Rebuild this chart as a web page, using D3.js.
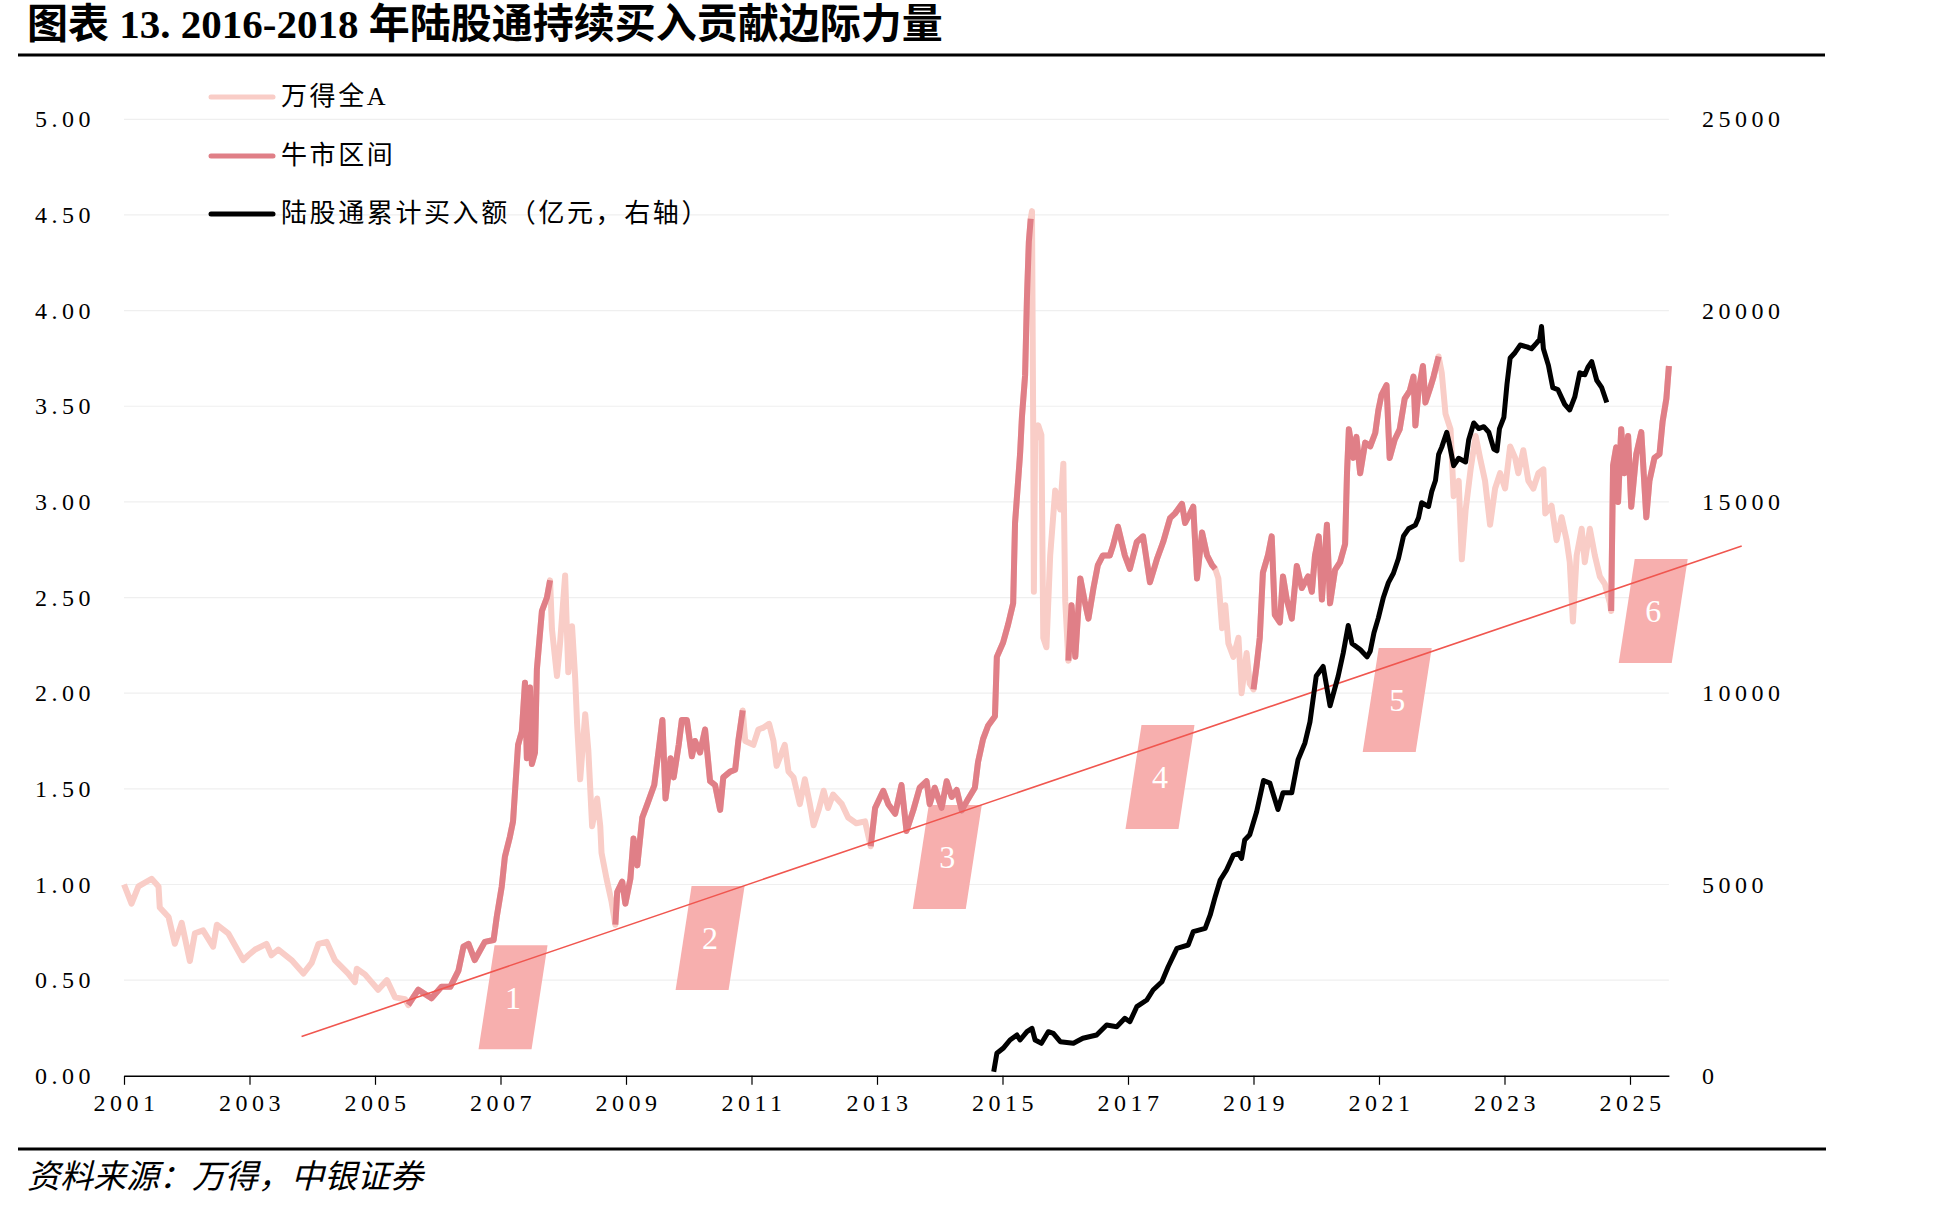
<!DOCTYPE html>
<html>
<head>
<meta charset="utf-8">
<script src="https://cdn.jsdelivr.net/npm/d3@7"></script>
<style>
body { margin: 0; background: #fff; }
svg { display: block; }
</style>
</head>
<body>
<svg id="chart"></svg>
<script>
// 万得全A (2001 = 1)
var yearsA = [2001.00,2001.12,2001.23,2001.44,2001.55,2001.57,2001.71,2001.81,2001.92,2002.05,2002.13,2002.26,2002.42,2002.48,2002.66,2002.90,2002.98,2003.09,2003.27,2003.35,2003.46,2003.67,2003.86,2003.99,2004.10,2004.23,2004.36,2004.57,2004.68,2004.71,2004.84,2005.05,2005.19,2005.32,2005.48,2005.53,2005.69,2005.90,2006.06,2006.20,2006.33,2006.41,2006.49,2006.59,2006.75,2006.89,2006.94,2007.02,2007.07,2007.15,2007.20,2007.28,2007.34,2007.39,2007.42,2007.47,2007.50,2007.55,2007.58,2007.66,2007.74,2007.79,2007.82,2007.90,2007.95,2008.03,2008.08,2008.14,2008.19,2008.22,2008.27,2008.35,2008.40,2008.46,2008.54,2008.59,2008.61,2008.69,2008.77,2008.83,2008.86,2008.94,2008.99,2009.07,2009.12,2009.18,2009.26,2009.34,2009.45,2009.52,2009.58,2009.63,2009.71,2009.76,2009.84,2009.89,2009.97,2010.05,2010.10,2010.18,2010.26,2010.34,2010.42,2010.50,2010.55,2010.66,2010.74,2010.79,2010.86,2010.90,2011.03,2011.11,2011.19,2011.28,2011.35,2011.40,2011.53,2011.59,2011.67,2011.77,2011.85,2011.93,2011.99,2012.07,2012.15,2012.22,2012.30,2012.44,2012.54,2012.67,2012.81,2012.90,2012.97,2013.10,2013.18,2013.29,2013.39,2013.47,2013.58,2013.68,2013.79,2013.84,2013.92,2014.03,2014.11,2014.19,2014.27,2014.35,2014.45,2014.56,2014.61,2014.69,2014.77,2014.88,2014.91,2015.01,2015.09,2015.17,2015.20,2015.28,2015.31,2015.36,2015.39,2015.42,2015.45,2015.47,2015.49,2015.50,2015.52,2015.57,2015.62,2015.65,2015.70,2015.76,2015.84,2015.92,2015.97,2016.00,2016.05,2016.10,2016.16,2016.24,2016.31,2016.37,2016.45,2016.52,2016.60,2016.71,2016.76,2016.84,2016.95,2017.03,2017.14,2017.24,2017.35,2017.46,2017.56,2017.67,2017.75,2017.86,2017.91,2017.99,2018.04,2018.10,2018.18,2018.26,2018.34,2018.39,2018.44,2018.50,2018.55,2018.60,2018.68,2018.76,2018.81,2018.89,2018.94,2019.00,2019.05,2019.10,2019.15,2019.23,2019.29,2019.34,2019.42,2019.47,2019.53,2019.61,2019.69,2019.77,2019.87,2019.93,2019.98,2020.04,2020.09,2020.17,2020.22,2020.30,2020.38,2020.46,2020.49,2020.52,2020.59,2020.64,2020.70,2020.78,2020.86,2020.94,2020.99,2021.04,2021.12,2021.17,2021.25,2021.33,2021.41,2021.49,2021.55,2021.58,2021.63,2021.70,2021.74,2021.82,2021.87,2021.95,2022.00,2022.06,2022.14,2022.19,2022.27,2022.32,2022.38,2022.46,2022.54,2022.61,2022.69,2022.77,2022.85,2022.93,2023.01,2023.09,2023.17,2023.22,2023.30,2023.38,2023.46,2023.54,2023.62,2023.65,2023.75,2023.83,2023.91,2023.99,2024.04,2024.09,2024.15,2024.23,2024.28,2024.36,2024.44,2024.52,2024.60,2024.68,2024.70,2024.73,2024.78,2024.81,2024.86,2024.91,2024.97,2025.02,2025.10,2025.18,2025.26,2025.31,2025.39,2025.47,2025.52,2025.58,2025.62];
var allA = [1.00,0.90,0.99,1.03,0.99,0.88,0.83,0.69,0.80,0.60,0.745,0.76,0.675,0.79,0.745,0.605,0.63,0.66,0.69,0.63,0.66,0.605,0.535,0.59,0.69,0.70,0.605,0.535,0.49,0.56,0.53,0.45,0.50,0.41,0.40,0.37,0.45,0.405,0.465,0.465,0.55,0.675,0.69,0.605,0.70,0.71,0.83,0.99,1.145,1.25,1.33,1.73,1.80,2.055,1.66,2.03,1.63,1.69,2.125,2.43,2.50,2.59,2.335,2.09,2.265,2.615,2.11,2.35,2.08,1.845,1.55,1.89,1.70,1.305,1.45,1.305,1.165,1.03,0.91,0.79,0.96,1.015,0.90,1.03,1.24,1.10,1.35,1.42,1.52,1.70,1.86,1.45,1.66,1.56,1.73,1.86,1.86,1.67,1.75,1.69,1.81,1.54,1.52,1.39,1.56,1.59,1.60,1.75,1.91,1.75,1.73,1.81,1.82,1.84,1.75,1.62,1.73,1.59,1.56,1.42,1.55,1.42,1.31,1.39,1.49,1.40,1.47,1.42,1.35,1.32,1.33,1.20,1.40,1.49,1.42,1.37,1.52,1.28,1.39,1.506,1.54,1.42,1.506,1.40,1.54,1.458,1.494,1.386,1.446,1.506,1.64,1.76,1.83,1.88,2.19,2.265,2.36,2.47,2.89,3.25,3.445,3.66,4.07,4.36,4.48,4.52,3.35,2.53,3.32,3.40,3.35,2.29,2.24,2.72,3.06,2.96,3.20,2.48,2.17,2.46,2.19,2.60,2.48,2.39,2.55,2.67,2.72,2.72,2.77,2.87,2.72,2.65,2.79,2.82,2.58,2.70,2.79,2.915,2.94,2.99,2.89,2.94,2.975,2.60,2.84,2.72,2.67,2.65,2.60,2.34,2.46,2.26,2.19,2.29,2.00,2.21,2.05,2.02,2.145,2.29,2.63,2.72,2.82,2.41,2.37,2.61,2.49,2.39,2.665,2.55,2.61,2.53,2.72,2.82,2.49,2.88,2.47,2.645,2.685,2.78,3.15,3.38,3.23,3.34,3.15,3.31,3.29,3.36,3.48,3.56,3.61,3.23,3.325,3.38,3.54,3.58,3.655,3.40,3.58,3.71,3.52,3.60,3.655,3.76,3.675,3.46,3.38,3.03,3.11,2.70,2.955,3.17,3.345,3.23,3.11,2.88,3.07,3.15,3.07,3.29,3.23,3.15,3.27,3.11,3.07,3.15,3.17,2.94,2.98,2.80,2.92,2.80,2.685,2.375,2.72,2.86,2.685,2.86,2.72,2.61,2.57,2.47,2.43,3.19,3.285,3.00,3.38,3.15,3.345,2.975,3.25,3.365,2.92,3.11,3.23,3.25,3.42,3.54,3.71];

// 牛市区间
var bullStart = [2005.53, 2008.83, 2012.90, 2016.05, 2019.00, 2024.70];
var bullEnd = [2007.79, 2010.86, 2015.45, 2018.39, 2021.95, 2025.62];

// 陆股通累计买入额（亿元，右轴）
var yearsB = [2014.86,2014.91,2015.01,2015.12,2015.23,2015.28,2015.39,2015.47,2015.52,2015.62,2015.73,2015.81,2015.92,2016.13,2016.28,2016.50,2016.66,2016.82,2016.95,2017.03,2017.14,2017.30,2017.40,2017.54,2017.64,2017.78,2017.96,2018.04,2018.23,2018.31,2018.39,2018.47,2018.57,2018.68,2018.76,2018.81,2018.86,2018.94,2019.05,2019.16,2019.26,2019.39,2019.47,2019.61,2019.71,2019.82,2019.90,2020.00,2020.11,2020.22,2020.35,2020.43,2020.51,2020.57,2020.70,2020.81,2020.86,2020.92,2020.99,2021.07,2021.15,2021.23,2021.31,2021.39,2021.47,2021.58,2021.63,2021.68,2021.79,2021.84,2021.90,2021.95,2022.00,2022.08,2022.12,2022.19,2022.27,2022.38,2022.43,2022.51,2022.59,2022.67,2022.75,2022.83,2022.88,2022.92,2022.99,2023.04,2023.09,2023.17,2023.25,2023.36,2023.43,2023.51,2023.56,2023.59,2023.62,2023.70,2023.77,2023.85,2023.96,2024.04,2024.12,2024.20,2024.28,2024.33,2024.39,2024.47,2024.55,2024.63];
var northbound = [107,588,719,936,1066,936,1153,1240,936,849,1153,1110,892,849,980,1066,1327,1283,1503,1414,1806,1981,2242,2459,2851,3332,3419,3767,3855,4203,4681,5117,5379,5771,5815,5684,6163,6300,6900,7720,7650,6960,7400,7400,8260,8700,9250,10450,10700,9670,10450,11050,11770,11300,11143,10949,11095,11580,11969,12503,12891,13134,13522,14104,14297,14394,14588,14977,14880,15268,15559,16238,16432,16820,16529,15947,16141,16044,16626,17063,16917,16966,16820,16383,16335,16917,17209,18082,18761,18906,19100,19052,19003,19149,19247,19587,19003,18568,17985,17937,17549,17403,17743,18374,18325,18519,18665,18180,17985,17597];

// 趋势线与编号
var trendYears = [2003.83, 2026.78];
var trendValues = [0.205, 2.77];
var boxLabels = ['1', '2', '3', '4', '5', '6'];
var boxYears = [2007.20, 2010.34, 2014.12, 2017.51, 2021.29, 2025.37];
var boxValues = [0.41, 0.72, 1.144, 1.562, 1.964, 2.43];

var xTicks = [2001,2003,2005,2007,2009,2011,2013,2015,2017,2019,2021,2023,2025];
var leftTicks = [0,0.5,1,1.5,2,2.5,3,3.5,4,4.5,5];
var rightTicks = [0,5000,10000,15000,20000,25000];

var legendLabels = ['万得全A', '牛市区间', '陆股通累计买入额（亿元，右轴）'];

var width = 1948, height = 1208;
var plot = {left: 124, right: 1668.9, top: 119.3, bottom: 1075.8};
var colLight = '#f9cdc7', colBull = '#e07f87', colBox = '#f7afae', colTrend = '#f0564f';
var numFont = "'Liberation Serif', serif";
var cjkFont = "'Liberation Serif', 'Noto Sans CJK SC', sans-serif";

var x = d3.scaleLinear().domain([2001, 2025.62]).range([plot.left, plot.right]);
var y = d3.scaleLinear().domain([0, 5]).range([plot.bottom, plot.top]);
var y2 = d3.scaleLinear().domain([0, 25000]).range([plot.bottom, plot.top]);

var svg = d3.select('#chart')
    .attr('width', width)
    .attr('height', height);

svg.append('rect').attr('width', width).attr('height', height).attr('fill', '#fff');

// title
svg.append('text')
    .attr('x', 27).attr('y', 38)
    .attr('font-family', cjkFont)
    .attr('font-size', 41)
    .attr('font-weight', 'bold')
    .attr('fill', '#000')
    .text('图表 13. 2016-2018 年陆股通持续买入贡献边际力量');

svg.append('line')
    .attr('x1', 18).attr('x2', 1825)
    .attr('y1', 55).attr('y2', 55)
    .attr('stroke', '#000').attr('stroke-width', 3);

// grid
svg.append('g')
    .selectAll('line')
    .data(leftTicks.filter(d => d > 0))
    .join('line')
    .attr('x1', plot.left).attr('x2', plot.right)
    .attr('y1', d => y(d)).attr('y2', d => y(d))
    .attr('stroke', '#efefef').attr('stroke-width', 1.2);

// numbered boxes
var boxes = svg.append('g');
boxes.selectAll('path')
    .data(boxLabels)
    .join('path')
    .attr('fill', colBox)
    .attr('d', (d, i) => {
        var cx = x(boxYears[i]), cy = y(boxValues[i]);
        return 'M' + (cx - 18.5) + ',' + (cy - 52) +
            'L' + (cx + 34.5) + ',' + (cy - 52) +
            'L' + (cx + 18.5) + ',' + (cy + 52) +
            'L' + (cx - 34.5) + ',' + (cy + 52) + 'Z';
    });

// index lines
var line = d3.line().x(d => x(d[0])).y(d => y(d[1]));
var seriesA = d3.zip(yearsA, allA);

svg.append('path')
    .datum(seriesA)
    .attr('d', line)
    .attr('fill', 'none')
    .attr('stroke', colLight)
    .attr('stroke-width', 6)
    .attr('stroke-linejoin', 'round');

svg.append('g')
    .selectAll('path')
    .data(bullStart.map((s, i) => seriesA.filter(p => p[0] >= s - 1e-6 && p[0] <= bullEnd[i] + 1e-6)))
    .join('path')
    .attr('d', line)
    .attr('fill', 'none')
    .attr('stroke', colBull)
    .attr('stroke-width', 6)
    .attr('stroke-linejoin', 'round');

// trend line
svg.append('path')
    .datum(d3.zip(trendYears, trendValues))
    .attr('d', line)
    .attr('fill', 'none')
    .attr('stroke', colTrend)
    .attr('stroke-width', 1.6);

// northbound cumulative
var line2 = d3.line().x(d => x(d[0])).y(d => y2(d[1]));
svg.append('path')
    .datum(d3.zip(yearsB, northbound))
    .attr('d', line2)
    .attr('fill', 'none')
    .attr('stroke', '#000')
    .attr('stroke-width', 5)
    .attr('stroke-linejoin', 'round');

boxes.selectAll('text')
    .data(boxLabels)
    .join('text')
    .attr('x', (d, i) => x(boxYears[i]))
    .attr('y', (d, i) => y(boxValues[i]))
    .attr('dy', '0.35em')
    .attr('text-anchor', 'middle')
    .attr('font-family', numFont)
    .attr('font-size', 32)
    .attr('fill', '#fff')
    .text(d => d);

// axes
var xAxis = d3.axisBottom(x).tickValues(xTicks).tickFormat(d3.format('d'))
    .tickSize(9).tickSizeOuter(0).tickPadding(9);
var gx = svg.append('g')
    .attr('transform', `translate(0,${plot.bottom})`)
    .call(xAxis);
gx.select('.domain').attr('stroke', '#000').attr('stroke-width', 1.6);
gx.selectAll('.tick line').attr('stroke', '#000').attr('stroke-width', 1.2);
gx.selectAll('text')
    .attr('font-family', numFont).attr('font-size', 24)
    .attr('dx', 2)
    .style('letter-spacing', '4.5px').attr('fill', '#000');

var yAxis = d3.axisLeft(y).tickValues(leftTicks).tickFormat(d3.format('.2f'))
    .tickSize(0).tickPadding(29);
var gy = svg.append('g')
    .attr('transform', `translate(${plot.left},0)`)
    .call(yAxis);
gy.select('.domain').remove();
gy.selectAll('text')
    .attr('font-family', numFont).attr('font-size', 24)
    .style('letter-spacing', '4.5px').attr('fill', '#000');

var y2Axis = d3.axisRight(y2).tickValues(rightTicks).tickFormat(d3.format('d'))
    .tickSize(0).tickPadding(33);
var gy2 = svg.append('g')
    .attr('transform', `translate(${plot.right},0)`)
    .call(y2Axis);
gy2.select('.domain').remove();
gy2.selectAll('text')
    .attr('font-family', numFont).attr('font-size', 24)
    .style('letter-spacing', '4.5px').attr('fill', '#000');

// legend
var legendColors = [colLight, colBull, '#000'];
var legendY = [97, 156, 214];
var legend = svg.append('g')
    .selectAll('g')
    .data(legendLabels)
    .join('g')
    .attr('transform', (d, i) => `translate(211,${legendY[i]})`);
legend.append('line')
    .attr('x1', 0).attr('x2', 62)
    .attr('stroke', (d, i) => legendColors[i])
    .attr('stroke-width', 5)
    .attr('stroke-linecap', 'round');
legend.append('text')
    .attr('x', 70).attr('y', 0).attr('dy', '0.32em')
    .attr('font-family', cjkFont)
    .attr('font-size', 26)
    .style('letter-spacing', '2.6px')
    .attr('fill', '#000')
    .text(d => d);

// footer
svg.append('line')
    .attr('x1', 18).attr('x2', 1826)
    .attr('y1', 1149).attr('y2', 1149)
    .attr('stroke', '#000').attr('stroke-width', 3);

svg.append('text')
    .attr('x', 27).attr('y', 1188)
    .attr('font-family', "'Noto Sans CJK SC', sans-serif")
    .attr('font-size', 33)
    .attr('font-style', 'italic')
    .attr('fill', '#000')
    .text('资料来源：万得，中银证券');
</script>
</body>
</html>
